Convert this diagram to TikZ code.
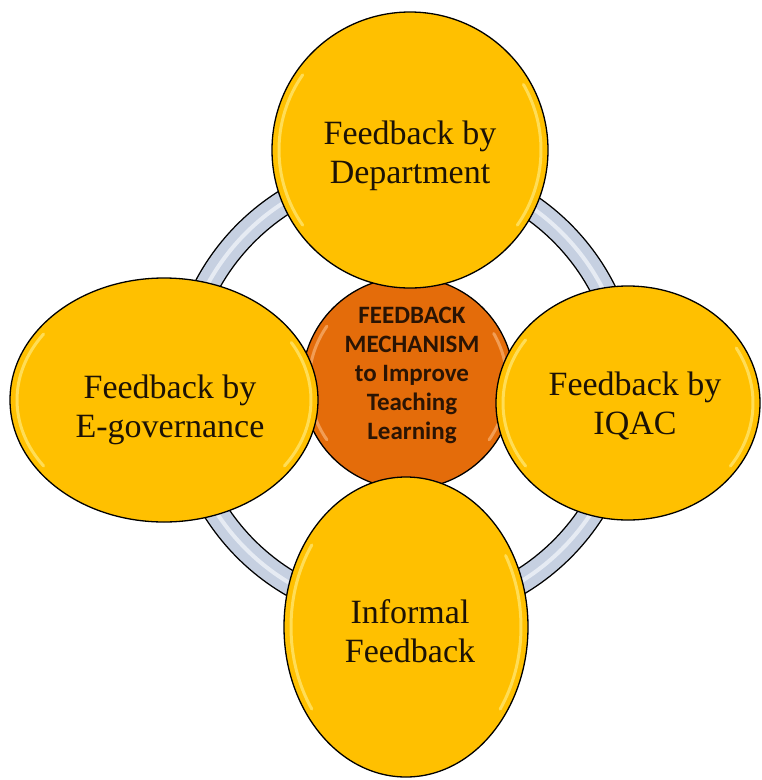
\documentclass[tikz,border=0pt]{standalone}
\usepackage{fontspec}
\setmainfont{Liberation Serif}
\newfontfamily\calfont{Carlito}
\usepackage{xcolor}
\usepackage{tikz}
\usetikzlibrary{shapes.geometric}
\definecolor{gold}{HTML}{FFC000}
\definecolor{goldshine}{HTML}{FFE873}
\definecolor{hub}{HTML}{E46C0A}
\definecolor{hubshine}{HTML}{F7AE6E}
\definecolor{ring}{HTML}{C6D0E1}
\definecolor{ringshine}{HTML}{EEF2F8}
\definecolor{ink}{HTML}{1C1206}
\definecolor{hubink}{HTML}{2A1404}
\tikzset{
  ringline/.style={circle,draw=black,line width=1.4pt,double=ring,double distance=23pt,
                   minimum size=447pt,inner sep=0pt},
  ringglow/.style={draw=ringshine,line width=4pt,opacity=.8},
  leaf/.style={ellipse,draw=black,line width=1.3pt,fill=gold,inner sep=0pt},
  leaftext/.style={align=center,text=ink,font=\fontsize{34}{39}\selectfont},
  shine/.style={draw=goldshine,line width=3pt,opacity=.75,line cap=round},
  hubnode/.style={circle,draw=black,line width=1.3pt,fill=hub,inner sep=0pt,minimum size=212pt},
  hubtext/.style={align=center,text=hubink,font=\calfont\bfseries\fontsize{25}{29}\selectfont},
}
% rim highlight: node, x radius, y radius
\newcommand\rimshine[4][shine]{%
  \draw[#1] (#2.center) ++(145:#3 and #4) arc[start angle=145,end angle=215,x radius=#3,y radius=#4];
  \draw[#1] (#2.center) ++(-30:#3 and #4) arc[start angle=-30,end angle=35,x radius=#3,y radius=#4];
}
\begin{document}
\begin{tikzpicture}[x=1pt,y=-1pt]
  \useasboundingbox (0,0) rectangle (762,780);
  % ring behind everything
  \node[ringline] (ring) at (404,391) {};
  \draw[ringglow] (ring.center) circle (223.5);
  % centre
  \node[hubnode] (hub) at (408,383) {};
  \rimshine[shine,draw=hubshine]{hub}{99}{99}
  \node[hubtext] (hubtxt) at ([shift={(4,-8)}]hub.center) {FEEDBACK\\MECHANISM\\to Improve\\Teaching\\Learning};
  % four feedback sources
  \node[leaf,minimum width=276pt,minimum height=276pt] (dept) at (410,150) {};
  \node[leaf,minimum width=308pt,minimum height=244pt] (egov) at (164,400) {};
  \node[leaf,minimum width=264pt,minimum height=234pt] (iqac) at (628,403) {};
  \node[leaf,minimum width=244pt,minimum height=300pt] (info) at (406,627) {};
  \rimshine{dept}{131}{131}
  \rimshine{egov}{147}{115}
  \rimshine{iqac}{125}{110}
  \rimshine{info}{115}{143}
  \node[leaftext] (depttxt) at ([shift={(0,6)}]dept.center) {Feedback by\\Department};
  \node[leaftext] (egovtxt) at ([shift={(6,10)}]egov.center) {Feedback by\\E-governance};
  \node[leaftext] (iqactxt) at ([shift={(7,3)}]iqac.center) {Feedback by\\IQAC};
  \node[leaftext] (infotxt) at ([shift={(4,4)}]info.center) {Informal\\Feedback};
\end{tikzpicture}
\end{document}
